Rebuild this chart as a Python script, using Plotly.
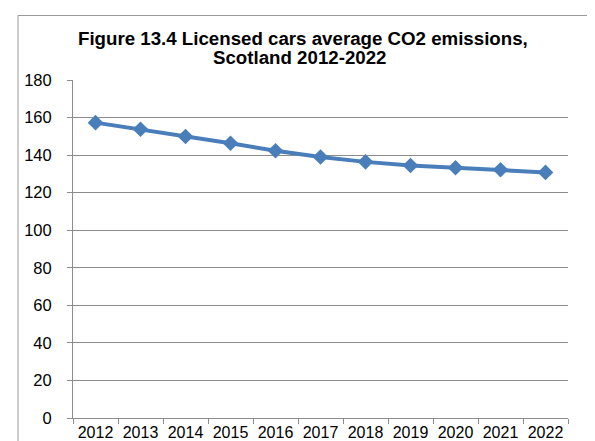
import plotly.graph_objects as go

years = ["2012", "2013", "2014", "2015", "2016", "2017", "2018", "2019", "2020", "2021", "2022"]
co2 = [157.3, 153.8, 149.9, 146.3, 142.3, 139.0, 136.4, 134.5, 133.3, 132.2, 130.8]
title_line1 = "Figure 13.4 Licensed cars average CO2 emissions,"
title_line2 = "Scotland 2012-2022"
y_ticks = [0, 20, 40, 60, 80, 100, 120, 140, 160, 180]

blue = "#4A7EBB"
grid = "#8C8C8C"
font = "Liberation Sans, Arial, sans-serif"

fig = go.Figure()
fig.add_trace(go.Scatter(
    x=years, y=co2, mode="lines+markers",
    line=dict(color=blue, width=4),
    marker=dict(symbol="diamond", size=12, color=blue),
    showlegend=False, hoverinfo="x+y",
))

W, H = 595, 441
ml, mr, mt, mb = 65, 35, 72, 31
pw, ph = W - ml - mr, H - mt - mb

def px_x(p):
    return (p - ml) / pw

def px_y(p):
    return (H - mb - p) / ph

fig.update_layout(
    width=W, height=H,
    margin=dict(l=ml, r=mr, t=mt, b=mb, pad=0, autoexpand=False),
    paper_bgcolor="white", plot_bgcolor="white",
    font=dict(family=font, size=16, color="black"),
    xaxis=dict(
        type="category", tickson="boundaries", ticks="outside", ticklen=5,
        tickcolor=grid, showline=True, linecolor=grid, linewidth=1,
        showgrid=False, tickfont=dict(size=16), tickangle=0,
        range=[-0.5, 10.5], automargin=False,
    ),
    yaxis=dict(
        range=[0, 180], tickvals=y_ticks, ticks="outside", ticklen=5,
        tickcolor=grid, showline=True, linecolor=grid, linewidth=1,
        showgrid=True, gridcolor=grid, gridwidth=1, zeroline=False,
        tickfont=dict(size=16.5), ticklabelstandoff=12, automargin=False,
    ),
    shapes=[dict(
        type="rect", xref="paper", yref="paper",
        x0=px_x(10), x1=px_x(640), y0=px_y(480), y1=px_y(7.5),
        line=dict(color="#999999", width=1), fillcolor="rgba(0,0,0,0)",
        layer="below",
    )],
    annotations=[
        dict(text="<b>" + title_line1 + "</b>", xref="paper", yref="paper",
             x=px_x(295), y=px_y(30), xanchor="center", yanchor="middle",
             showarrow=False, font=dict(size=18.7, family=font, color="black")),
        dict(text="<b>" + title_line2 + "</b>", xref="paper", yref="paper",
             x=px_x(291), y=px_y(50), xanchor="center", yanchor="middle",
             showarrow=False, font=dict(size=18.7, family=font, color="black")),
    ],
)

fig.write_html("out.html")
